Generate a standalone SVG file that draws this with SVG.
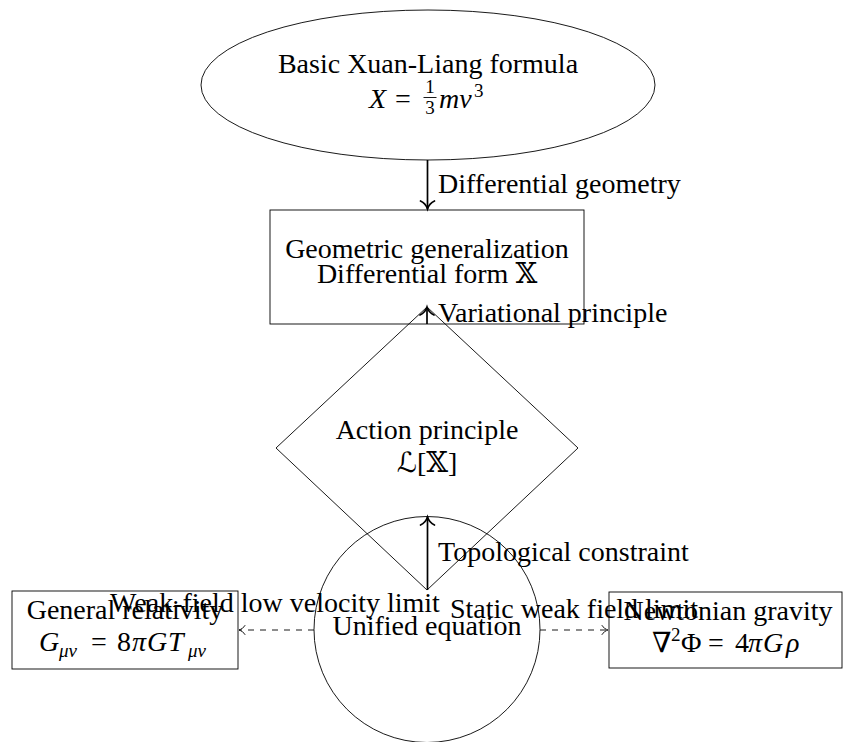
<svg xmlns="http://www.w3.org/2000/svg" width="843" height="742" viewBox="0 0 843 742">
<style>
  .node { fill: none; stroke: #000; stroke-width: 0.9; }
  text { font-family: "Liberation Serif", "DejaVu Serif", "DejaVu Sans", serif; font-size: 28px; fill: #000; }
  .c { text-anchor: middle; }
  .i { font-style: italic; }
  .sm { font-size: 19px; }
  .arr { stroke: #000; stroke-width: 1.7; fill: none; marker-end: url(#ah); }
  .dash { stroke: #000; stroke-width: 0.9; fill: none; stroke-dasharray: 6 6; marker-end: url(#ahs); }
  .bar { stroke: #000; stroke-width: 0.9; }
</style>
<defs>
  <marker id="ah" markerUnits="userSpaceOnUse" viewBox="-10 -8 12 16" refX="0" refY="0" markerWidth="12" markerHeight="16" orient="auto" overflow="visible">
    <path d="M -8 -7 C -6.5 -3.5 -2.5 -0.8 0 0 C -2.5 0.8 -6.5 3.5 -8 7" fill="none" stroke="#000" stroke-width="1.7" stroke-linecap="round"/>
  </marker>
  <marker id="ahs" markerUnits="userSpaceOnUse" viewBox="-8 -6 10 12" refX="0" refY="0" markerWidth="10" markerHeight="12" orient="auto" overflow="visible">
    <path d="M -6 -4.5 C -5 -2.5 -2 -0.6 0 0 C -2 0.6 -5 2.5 -6 4.5" fill="none" stroke="#000" stroke-width="0.9" stroke-linecap="round"/>
  </marker>
</defs>

<g id="basic">
  <ellipse class="node" cx="428" cy="85" rx="227" ry="75"/>
  <text class="c" x="428" y="73">Basic Xuan-Liang formula</text>
  <text class="i" x="369" y="108">X</text>
  <text x="395" y="108">=</text>
  <text class="sm c" x="430" y="93">1</text>
  <line class="bar" x1="423.5" y1="97.5" x2="436.5" y2="97.5"/>
  <text class="sm c" x="430" y="114">3</text>
  <text class="i" x="439" y="108">mv</text>
  <text class="sm" x="474" y="97">3</text>
</g>

<g id="geometric">
  <rect class="node" x="270" y="210" width="314" height="114"/>
  <text class="c" x="427" y="258">Geometric generalization</text>
  <text class="c" x="427" y="283">Differential form 𝕏</text>
</g>

<g id="action">
  <polygon class="node" points="427,307 578,448 427,590 276,448"/>
  <text class="c" x="427" y="439">Action principle</text>
  <text class="c" x="427" y="472">ℒ[𝕏]</text>
</g>

<g id="unified">
  <circle class="node" cx="427" cy="629.5" r="113"/>
  <text class="c" x="427" y="635">Unified equation</text>
</g>

<g id="gr">
  <rect class="node" x="12" y="591" width="226" height="78"/>
  <text class="c" x="125" y="619">General relativity</text>
  <text class="i" x="39" y="651">G</text>
  <text class="i sm" x="59" y="657">μν</text>
  <text x="91" y="651">=</text>
  <text x="117" y="651">8</text>
  <text class="i" x="132" y="651">π</text>
  <text class="i" x="147" y="651">G</text>
  <text class="i" x="168" y="651">T</text>
  <text class="i sm" x="188" y="657">μν</text>
</g>

<g id="newton">
  <rect class="node" x="609" y="592" width="233" height="76"/>
  <text class="c" x="728" y="620">Newtonian gravity</text>
  <text x="652" y="652">∇</text>
  <text class="sm" x="671" y="641">2</text>
  <text x="681" y="652">Φ</text>
  <text x="708" y="652">=</text>
  <text x="735" y="652">4</text>
  <text class="i" x="748" y="652">π</text>
  <text class="i" x="763" y="652">G</text>
  <text class="i" x="786" y="652">ρ</text>
</g>

<g id="connectors">
  <path class="arr" d="M 427.5 160 L 427.5 209"/>
  <text x="438" y="193">Differential geometry</text>
  <path class="arr" d="M 427 324 L 427 307"/>
  <text x="438" y="322">Variational principle</text>
  <path class="arr" d="M 427.5 590 L 427.5 517"/>
  <text x="438" y="561">Topological constraint</text>
  <path class="dash" d="M 314 630 L 239 630"/>
  <text class="c" x="275" y="612">Weak-field low velocity limit</text>
  <path class="dash" d="M 540 630 L 608 630"/>
  <text class="c" x="574" y="618">Static weak field limit</text>
</g>
</svg>
